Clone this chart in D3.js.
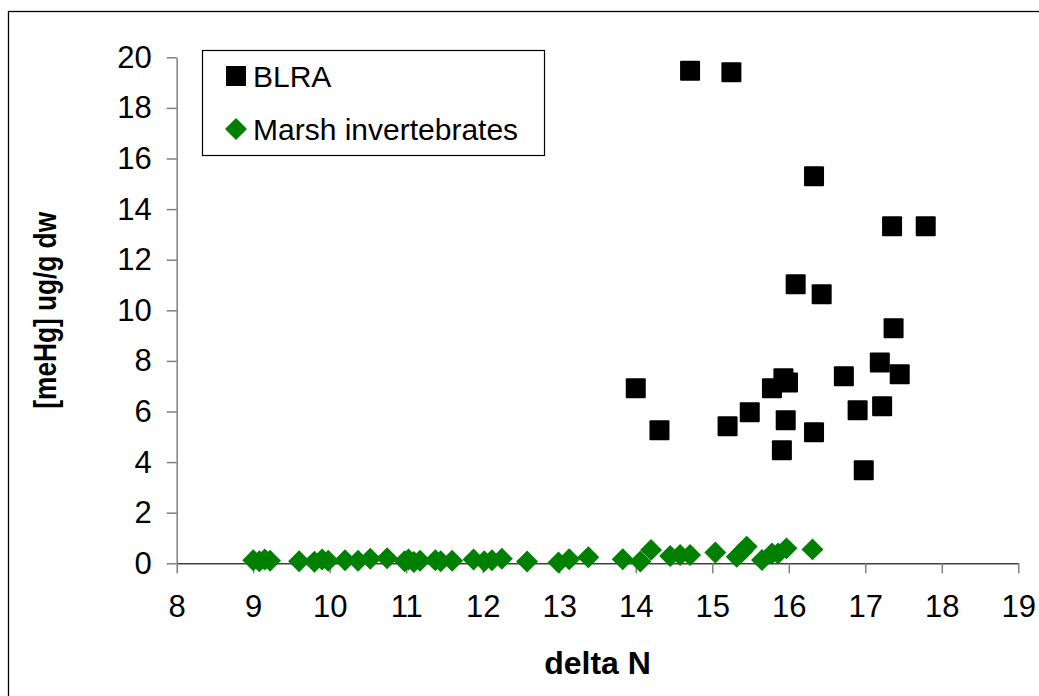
<!DOCTYPE html>
<html>
<head>
<meta charset="utf-8">
<script src="https://cdn.jsdelivr.net/npm/d3@7"></script>
<style>
  html, body { margin: 0; padding: 0; background: #fff; }
  svg { display: block; }
  text { font-family: "Liberation Sans", Arial, sans-serif; }
</style>
</head>
<body>
<svg id="chart" width="1039" height="696"></svg>
<script>
// BLRA samples: delta N vs methylmercury
const blraDeltaN = [14.71, 15.25, 16.33, 17.35, 17.79, 16.09, 16.43, 17.37, 17.19, 17.45,
                    16.72, 15.93, 15.99, 15.78, 14.00, 15.49, 16.90, 17.22, 15.20, 15.96,
                    16.33, 14.31, 15.91, 16.98];
const blraMeHg   = [19.47, 19.41, 15.30, 13.32, 13.32, 11.03, 10.63, 9.29, 7.94, 7.47,
                    7.39, 7.31, 7.15, 6.92, 6.92, 5.97, 6.05, 6.21, 5.42, 5.65,
                    5.18, 5.26, 4.47, 3.68];

// Marsh invertebrate samples
const invDeltaN = [9.00, 9.08, 9.15, 9.22, 9.60, 9.80, 9.90, 9.98, 10.20, 10.37,
                   10.53, 10.75, 10.98, 11.03, 11.10, 11.18, 11.38, 11.45, 11.60, 11.88,
                   12.02, 12.12, 12.25, 12.58, 12.99, 13.13, 13.38, 13.83, 14.06, 14.20,
                   14.45, 14.58, 14.71, 15.04, 15.32, 15.39, 15.45, 15.65, 15.78, 15.86,
                   15.97, 16.31];
const invMeHg   = [0.12, 0.08, 0.15, 0.10, 0.08, 0.06, 0.15, 0.10, 0.12, 0.10,
                   0.18, 0.20, 0.08, 0.15, 0.05, 0.10, 0.12, 0.08, 0.10, 0.15,
                   0.08, 0.12, 0.18, 0.07, 0.03, 0.16, 0.24, 0.16, 0.07, 0.53,
                   0.29, 0.33, 0.33, 0.43, 0.26, 0.46, 0.66, 0.13, 0.39, 0.39,
                   0.59, 0.55];

const xTicks = [8, 9, 10, 11, 12, 13, 14, 15, 16, 17, 18, 19];
const yTicks = [0, 2, 4, 6, 8, 10, 12, 14, 16, 18, 20];
const seriesNames = ["BLRA", "Marsh invertebrates"];
const xTitle = "delta N";
const yTitle = "[meHg] ug/g dw";

const svg = d3.select("#chart");

// outer chart border
svg.append("rect")
  .attr("x", 8.5).attr("y", 11.5)
  .attr("width", 1060).attr("height", 720)
  .attr("fill", "none").attr("stroke", "#000").attr("stroke-width", 1.3);

const plot = { left: 176.7, right: 1018.3, top: 57.3, bottom: 563.3 };

const x = d3.scaleLinear().domain([8, 19]).range([plot.left, plot.right]);
const y = d3.scaleLinear().domain([0, 20]).range([plot.bottom, plot.top]);

// y axis
const yAxis = svg.append("g")
  .attr("transform", `translate(${plot.left},0)`)
  .call(d3.axisLeft(y).tickValues(yTicks).tickSize(10).tickPadding(15).tickSizeOuter(0));
yAxis.select(".domain").attr("stroke", "#808080").attr("stroke-width", 1.5);
yAxis.selectAll(".tick line").attr("stroke", "#808080").attr("stroke-width", 1.5);
yAxis.selectAll(".tick text")
  .attr("font-size", 31).attr("fill", "#000")
  .attr("font-family", "'Liberation Sans', Arial, sans-serif");

// x axis
const xAxis = svg.append("g")
  .attr("transform", `translate(0,${plot.bottom})`)
  .call(d3.axisBottom(x).tickValues(xTicks).tickSize(10).tickPadding(22).tickSizeOuter(0));
xAxis.select(".domain").attr("stroke", "#404040").attr("stroke-width", 1.5);
xAxis.selectAll(".tick line").attr("stroke", "#808080").attr("stroke-width", 1.5);
xAxis.selectAll(".tick text")
  .attr("font-size", 31).attr("fill", "#000")
  .attr("font-family", "'Liberation Sans', Arial, sans-serif");

// axis titles
svg.append("text")
  .attr("x", (plot.left + plot.right) / 2).attr("y", 674)
  .attr("text-anchor", "middle")
  .attr("font-size", 32).attr("font-weight", "bold")
  .text(xTitle);

// y title: tall, slightly condensed lettering
svg.append("text")
  .attr("transform", `translate(56,${(plot.top + plot.bottom) / 2}) rotate(-90) scale(0.82,1)`)
  .attr("text-anchor", "middle")
  .attr("font-size", 32).attr("font-weight", "bold")
  .text(yTitle);

// markers
const sq = 20;
const blra = blraDeltaN.map((d, i) => ({ x: d, y: blraMeHg[i] }));
const inv = invDeltaN.map((d, i) => ({ x: d, y: invMeHg[i] }));

const diamond = d3.symbol().type(d3.symbolSquare).size(15.5 * 15.5);

svg.append("g").selectAll("path")
  .data(inv).join("path")
  .attr("d", diamond)
  .attr("transform", d => `translate(${x(d.x)},${y(d.y)}) rotate(45)`)
  .attr("fill", "#008000");

svg.append("g").selectAll("rect")
  .data(blra).join("rect")
  .attr("x", d => x(d.x) - sq / 2)
  .attr("y", d => y(d.y) - sq / 2)
  .attr("width", sq).attr("height", sq)
  .attr("rx", 1)
  .attr("fill", "#000");

// legend
const lg = svg.append("g");
lg.append("rect")
  .attr("x", 202.5).attr("y", 50.5)
  .attr("width", 342).attr("height", 105)
  .attr("fill", "#fff").attr("stroke", "#000").attr("stroke-width", 1.2);

lg.append("rect")
  .attr("x", 236 - sq / 2).attr("y", 76 - sq / 2)
  .attr("width", sq).attr("height", sq).attr("fill", "#000");
lg.append("path")
  .attr("d", diamond)
  .attr("transform", "translate(236,129) rotate(45)")
  .attr("fill", "#008000");

lg.selectAll("text.lbl")
  .data(seriesNames).join("text")
  .attr("class", "lbl")
  .attr("x", 253)
  .attr("y", (d, i) => 87 + i * 53)
  .attr("font-size", 30)
  .text(d => d);
</script>
</body>
</html>
